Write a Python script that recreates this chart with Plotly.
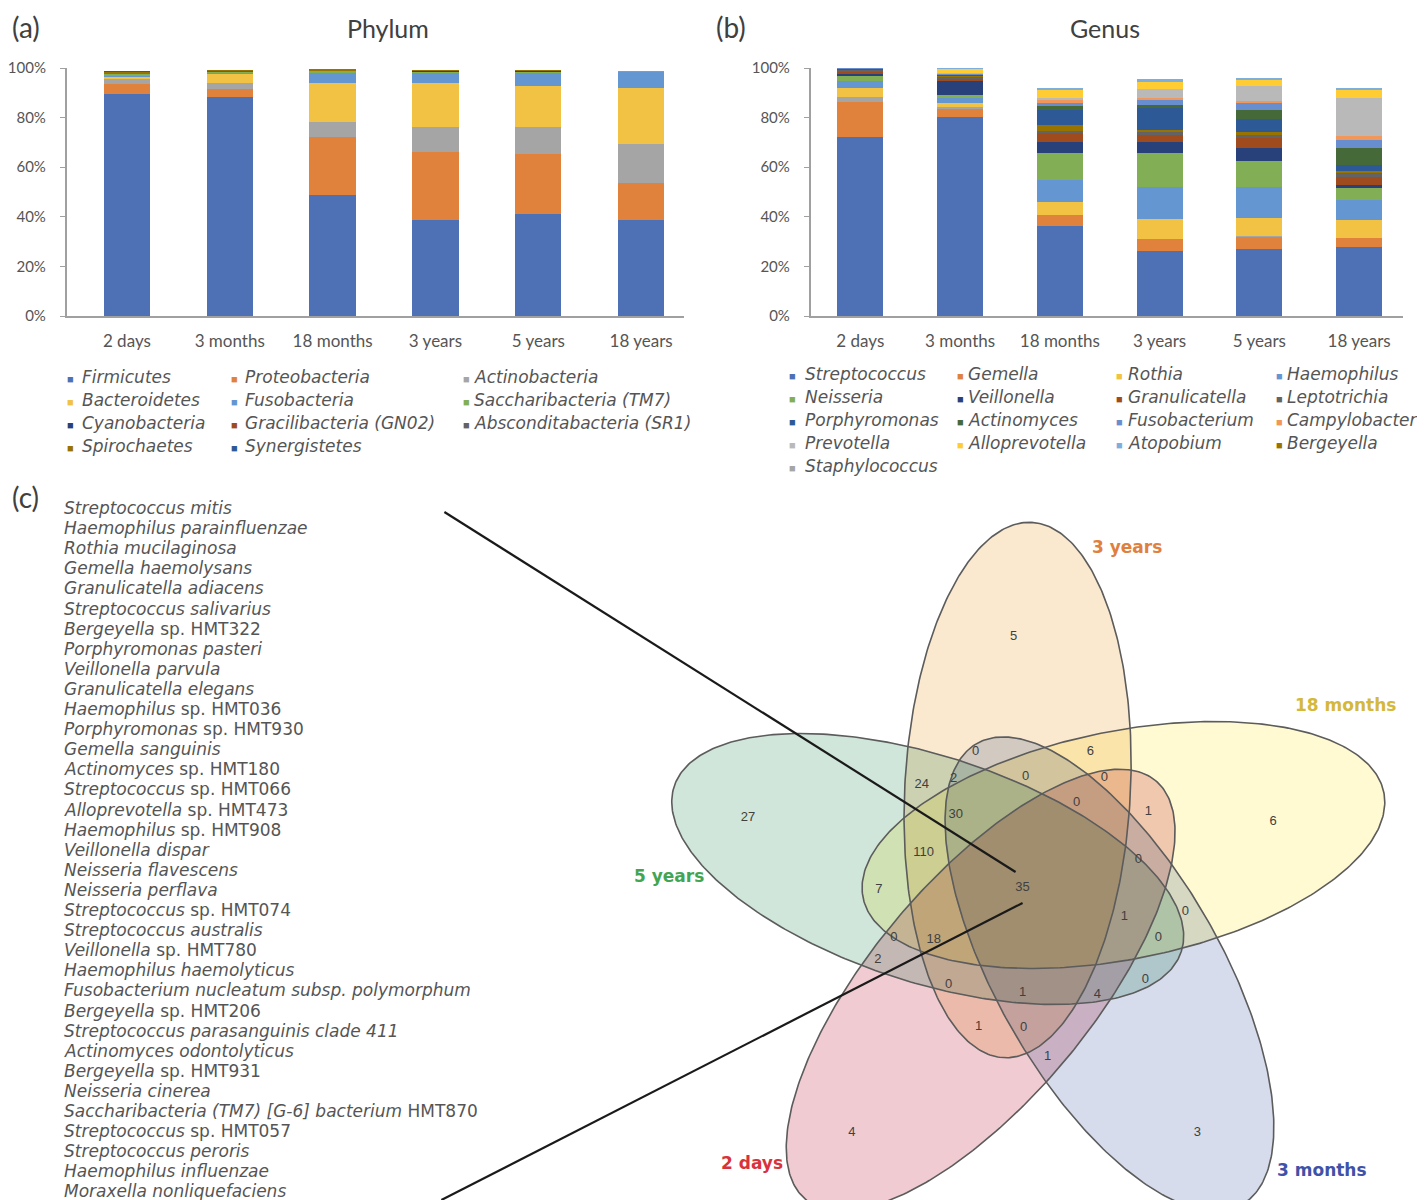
import itertools
import numpy as np
import plotly.graph_objects as go

W, H = 1425, 1200

# ---------------- data ----------------
ages = ["2 days", "3 months", "18 months", "3 years", "5 years", "18 years"]

phyla = ["Firmicutes", "Proteobacteria", "Actinobacteria", "Bacteroidetes", "Fusobacteria",
         "Saccharibacteria (TM7)", "Cyanobacteria", "Gracilibacteria (GN02)",
         "Absconditabacteria (SR1)", "Spirochaetes", "Synergistetes"]
phylum_colors = ["#4E70B4", "#E0823C", "#A5A5A5", "#F2C244", "#6496D2", "#82AF55",
                 "#28417A", "#A04B1E", "#636363", "#997300", "#2D5A96"]
firmicutes = [89.5, 88.5, 48.9, 38.8, 41.2, 38.8]
proteobacteria = [4.2, 3.0, 23.4, 27.4, 24.1, 15.0]
actinobacteria = [2.0, 2.4, 6.1, 9.9, 10.8, 15.5]
bacteroidetes = [1.0, 3.8, 15.5, 17.8, 16.7, 22.6]
fusobacteria = [0.4, 0.5, 4.3, 4.3, 5.4, 6.7]
saccharibacteria = [0.5, 0.4, 0.6, 0.5, 0.5, 0.1]
cyanobacteria = [0.1, 0.1, 0.1, 0.1, 0.1, 0.0]
gracilibacteria = [0.1, 0.1, 0.1, 0.1, 0.1, 0.0]
absconditabacteria = [0.1, 0.1, 0.1, 0.1, 0.1, 0.0]
spirochaetes = [0.6, 0.1, 0.1, 0.1, 0.1, 0.0]
synergistetes = [0.1, 0.0, 0.0, 0.0, 0.0, 0.0]
phylum_values = [firmicutes, proteobacteria, actinobacteria, bacteroidetes, fusobacteria,
                 saccharibacteria, cyanobacteria, gracilibacteria, absconditabacteria,
                 spirochaetes, synergistetes]

# genus series in stacking order (bottom -> top)
genera = ["Streptococcus", "Gemella", "Staphylococcus", "Rothia", "Haemophilus", "Neisseria",
          "Veillonella", "Granulicatella", "Leptotrichia", "Bergeyella", "Porphyromonas",
          "Actinomyces", "Fusobacterium", "Campylobacter", "Prevotella", "Alloprevotella",
          "Atopobium"]
genus_colors = ["#4E70B4", "#E0823C", "#A5A5A5", "#F2C244", "#6496D2", "#82AF55",
                "#28417A", "#A04B1E", "#636363", "#997300", "#2D5A96", "#46693A",
                "#698ED0", "#F1975A", "#B9B9B9", "#FFCD33", "#7CAFDD"]
streptococcus = [72.0, 80.4, 36.1, 26.4, 27.0, 27.7]
gemella = [14.1, 3.4, 4.7, 4.7, 5.0, 3.8]
staphylococcus = [2.4, 0.3, 0.1, 0.1, 0.1, 0.1]
rothia = [3.4, 1.7, 5.1, 8.1, 7.6, 7.0]
haemophilus = [2.7, 2.0, 8.8, 12.8, 12.4, 8.1]
neisseria = [2.0, 1.4, 11.1, 13.8, 10.4, 4.8]
veillonella = [1.2, 5.4, 4.1, 4.1, 5.2, 1.2]
granulicatella = [0.6, 1.3, 3.7, 3.1, 4.0, 3.2]
leptotrichia = [0.8, 0.7, 1.1, 0.9, 1.4, 1.6]
bergeyella = [0.2, 0.3, 2.3, 1.1, 0.9, 1.1]
porphyromonas = [0.3, 0.4, 6.1, 8.8, 5.4, 2.3]
actinomyces = [0.2, 0.2, 1.6, 1.3, 3.5, 6.8]
fusobacterium = [0.1, 0.2, 1.4, 2.1, 3.0, 3.3]
campylobacter = [0.0, 0.1, 0.7, 0.6, 0.7, 1.4]
prevotella = [0.0, 0.3, 1.0, 3.7, 6.3, 15.5]
alloprevotella = [0.0, 1.5, 3.1, 3.1, 2.5, 3.4]
atopobium = [0.0, 0.2, 1.0, 0.7, 0.5, 0.7]
genus_values = [streptococcus, gemella, staphylococcus, rothia, haemophilus, neisseria,
                veillonella, granulicatella, leptotrichia, bergeyella, porphyromonas,
                actinomyces, fusobacterium, campylobacter, prevotella, alloprevotella,
                atopobium]
genus_legend_order = ["Streptococcus", "Gemella", "Rothia", "Haemophilus",
                      "Neisseria", "Veillonella", "Granulicatella", "Leptotrichia",
                      "Porphyromonas", "Actinomyces", "Fusobacterium", "Campylobacter",
                      "Prevotella", "Alloprevotella", "Atopobium", "Bergeyella",
                      "Staphylococcus"]

y_ticks = [0, 20, 40, 60, 80, 100]
y_tick_labels = ["0%", "20%", "40%", "60%", "80%", "100%"]

# core species list: (italic part, roman part)
core_species = [
    ("Streptococcus mitis", ""), ("Haemophilus parainfluenzae", ""),
    ("Rothia mucilaginosa", ""), ("Gemella haemolysans", ""),
    ("Granulicatella adiacens", ""), ("Streptococcus salivarius", ""),
    ("Bergeyella", " sp. HMT322"), ("Porphyromonas pasteri", ""),
    ("Veillonella parvula", ""), ("Granulicatella elegans", ""),
    ("Haemophilus", " sp. HMT036"), ("Porphyromonas", " sp. HMT930"),
    ("Gemella sanguinis", ""), ("Actinomyces", " sp. HMT180"),
    ("Streptococcus", " sp. HMT066"), ("Alloprevotella", " sp. HMT473"),
    ("Haemophilus", " sp. HMT908"), ("Veillonella dispar", ""),
    ("Neisseria flavescens", ""), ("Neisseria perflava", ""),
    ("Streptococcus", " sp. HMT074"), ("Streptococcus australis", ""),
    ("Veillonella", " sp. HMT780"), ("Haemophilus haemolyticus", ""),
    ("Fusobacterium nucleatum subsp. polymorphum", ""), ("Bergeyella", " sp. HMT206"),
    ("Streptococcus parasanguinis clade 411", ""), ("Actinomyces odontolyticus", ""),
    ("Bergeyella", " sp. HMT931"), ("Neisseria cinerea", ""),
    ("Saccharibacteria (TM7) [G-6] bacterium", " HMT870"), ("Streptococcus", " sp. HMT057"),
    ("Streptococcus peroris", ""), ("Haemophilus influenzae", ""),
    ("Moraxella nonliquefaciens", ""),
]

venn_sets = ["3 years", "18 months", "3 months", "2 days", "5 years"]
venn_counts = [5, 6, 3, 4, 27,
               0, 6, 24, 2, 0, 0, 0, 1, 30, 110, 0, 7, 35, 0, 1, 0, 0, 18, 2,
               0, 0, 1, 4, 1, 0, 1]

# ---------------- layout constants (reference pixels) ----------------
# the page shows the figure offset by (8, 18) px and squeezed vertically; map reference px
OX, OY, SY = 8.0, 18.0, 0.985
def fx(px):  # reference x px -> paper fraction
    return (px - OX) / W
def fy(py):  # reference y px -> paper fraction
    return 1 - ((py - OY) / SY) / H

venn_geom = {  # centre x, centre y, semi-major, semi-minor, angle (deg, y up)
    "3 years":   (1017, 790, 268, 113, 87.0),
    "18 months": (1123, 845, 266, 114, 11.4),
    "3 months":  (1109, 974, 266, 112, -60.0),
    "2 days":    (980, 990, 273, 110, 50.0),
    "5 years":   (927, 869, 267, 113, -18.0),
}
venn_rgb = {
    "3 years": (250, 233, 207),
    "18 months": (255, 250, 210),
    "3 months": (214, 220, 236),
    "2 days": (240, 204, 210),
    "5 years": (208, 230, 218),
}
venn_label_style = {
    "3 years": (1127, 547, "#E0803E"),
    "18 months": (1345, 705, "#D4B83A"),
    "3 months": (1322, 1170, "#3F52A8"),
    "2 days": (751, 1163, "#D9323C"),
    "5 years": (668, 876, "#43A552"),
}
count_pos = [(1013, 637), (1273, 822), (1197, 1133), (851, 1133), (747, 818),
             (975, 752), (1090, 752), (921, 785), (953, 779), (1025, 777), (1104, 778),
             (1076, 803), (1148, 812), (955, 815), (923, 853), (1138, 860), (878, 890),
             (1022, 888), (1185, 912), (1124, 917), (1158, 938), (893, 938), (933, 940),
             (877, 960), (1145, 980), (948, 985), (1022, 993), (1097, 995), (978, 1027),
             (1023, 1028), (1047, 1057)]
pointer_lines = [((443, 512), (1015, 872)), ((440, 1200), (1022, 903))]

GRAY_TXT = "#555555"
LIST_FONT = "DejaVu Sans, Liberation Sans, Arial"
fig = go.Figure()

# ---------------- bar charts ----------------
for name, vals, col in zip(phyla, phylum_values, phylum_colors):
    fig.add_trace(go.Bar(x=ages, y=vals, name=name, marker=dict(color=col, line=dict(width=0)),
                         width=0.45, xaxis="x", yaxis="y", showlegend=False))
for name, vals, col in zip(genera, genus_values, genus_colors):
    fig.add_trace(go.Bar(x=ages, y=vals, name=name, marker=dict(color=col, line=dict(width=0)),
                         width=0.46, xaxis="x2", yaxis="y2", showlegend=False))

# ---------------- venn (regions coloured by multiplying the set colours) ----------------
def ell_boundary(g, n):
    cx, cy, a, b, ang = g
    t = np.linspace(0, 2 * np.pi, n, endpoint=False)
    th = np.deg2rad(ang)
    ex = cx + a * np.cos(t) * np.cos(th) - b * np.sin(t) * np.sin(th)
    ey = cy - (a * np.cos(t) * np.sin(th) + b * np.sin(t) * np.cos(th))
    return ex, ey

def ell_inside(g, x, y):
    cx, cy, a, b, ang = g
    th = np.deg2rad(ang)
    dx, dy = x - cx, -(y - cy)
    u = dx * np.cos(th) + dy * np.sin(th)
    v = -dx * np.sin(th) + dy * np.cos(th)
    return (u / a) ** 2 + (v / b) ** 2 <= 1.0 + 1e-9

subsets = []
for k in range(1, 6):
    subsets.extend(itertools.combinations(venn_sets, k))
for sub in subsets:
    xs, ys = [], []
    for s in sub:
        ex, ey = ell_boundary(venn_geom[s], 1500)
        keep = np.ones_like(ex, dtype=bool)
        for o in sub:
            if o != s:
                keep &= ell_inside(venn_geom[o], ex, ey)
        xs.append(ex[keep]); ys.append(ey[keep])
    px_, py_ = np.concatenate(xs), np.concatenate(ys)
    if len(px_) < 3:
        continue
    order = np.argsort(np.arctan2(py_ - py_.mean(), px_ - px_.mean()))
    px_, py_ = px_[order], py_[order]
    rgb = np.array([255.0, 255.0, 255.0])
    for s in sub:
        rgb *= np.array(venn_rgb[s]) / 255.0
    col = "rgb(%d,%d,%d)" % tuple(np.round(rgb).astype(int))
    fig.add_trace(go.Scatter(x=np.append(px_, px_[0]), y=np.append(py_, py_[0]), mode="lines",
                             fill="toself", fillcolor=col, line=dict(width=0.6, color=col),
                             xaxis="x3", yaxis="y3", showlegend=False, hoverinfo="skip"))

for s in venn_sets:
    ex, ey = ell_boundary(venn_geom[s], 360)
    fig.add_trace(go.Scatter(x=np.append(ex, ex[0]), y=np.append(ey, ey[0]), mode="lines",
                             line=dict(color="#5c5c5c", width=1.6),
                             xaxis="x3", yaxis="y3", showlegend=False, hoverinfo="skip"))

fig.add_trace(go.Scatter(x=[p[0] for p in count_pos], y=[p[1] for p in count_pos],
                         text=[str(c) for c in venn_counts], mode="text",
                         textfont=dict(family="Liberation Sans, Arial", size=13, color="#404040"),
                         xaxis="x3", yaxis="y3", showlegend=False, hoverinfo="skip"))

for (x0, y0), (x1, y1) in pointer_lines:
    fig.add_trace(go.Scatter(x=[x0, x1], y=[y0, y1], mode="lines",
                             line=dict(color="#1a1a1a", width=2.2),
                             xaxis="x3", yaxis="y3", showlegend=False, hoverinfo="skip"))

annotations = []
for s in venn_sets:
    x, y, c = venn_label_style[s]
    annotations.append(dict(x=x, y=y, xref="x3", yref="y3", text="<b>%s</b>" % s,
                            showarrow=False, font=dict(family="DejaVu Sans, Arial", size=17, color=c)))

# species list
for i, (it, rm) in enumerate(core_species):
    txt = "<i>%s</i>%s" % (it, rm)
    annotations.append(dict(x=60, y=508 + i * 20.1, xref="x3", yref="y3", text=txt,
                            xanchor="left", yanchor="middle", showarrow=False,
                            font=dict(family=LIST_FONT, size=17, color=GRAY_TXT)))

# panel letters and titles
for txt, x, y in [("(a)", 8, 27), ("(b)", 713, 27), ("(c)", 8, 497)]:
    annotations.append(dict(x=x, y=y, xref="x3", yref="y3", text=txt, xanchor="left",
                            yanchor="middle", showarrow=False,
                            font=dict(family="Lato, Open Sans", size=28, color="#404040")))
for txt, x in [("Phylum", 387), ("Genus", 1105)]:
    annotations.append(dict(x=x, y=28, xref="x3", yref="y3", text=txt, showarrow=False,
                            font=dict(family="Lato, Open Sans", size=25, color="#404040")))

# legends (a)
a_cols = [(69, 78), (233, 241), (465, 471)]
a_rows = [377, 400, 423, 446]
for k, (name, col) in enumerate(zip(phyla, phylum_colors)):
    r, c = divmod(k, 3)
    sx, tx = a_cols[c]
    annotations.append(dict(x=sx, y=a_rows[r] + 1, xref="x3", yref="y3", text="■",
                            showarrow=False, font=dict(size=11, color=col)))
    annotations.append(dict(x=tx, y=a_rows[r], xref="x3", yref="y3", text="<i>%s</i>" % name,
                            xanchor="left", showarrow=False,
                            font=dict(family=LIST_FONT, size=17, color=GRAY_TXT)))
# legends (b)
b_cols = [(792, 802), (960, 965), (1119, 1126), (1279, 1285)]
b_rows = [374, 397, 420, 443, 466]
gcol = dict(zip(genera, genus_colors))
for k, name in enumerate(genus_legend_order):
    r, c = divmod(k, 4)
    sx, tx = b_cols[c]
    annotations.append(dict(x=sx, y=b_rows[r] + 1, xref="x3", yref="y3", text="■",
                            showarrow=False, font=dict(size=11, color=gcol[name])))
    annotations.append(dict(x=tx, y=b_rows[r], xref="x3", yref="y3", text="<i>%s</i>" % name,
                            xanchor="left", showarrow=False,
                            font=dict(family=LIST_FONT, size=17, color=GRAY_TXT)))

ydom = [fy(316), fy(68)]
axis_font = dict(family="Lato, Open Sans", size=15, color=GRAY_TXT)
yax = dict(range=[0, 100], tickvals=y_ticks, ticktext=y_tick_labels, showline=True,
           linecolor="#a0a0a0", linewidth=2, ticks="outside", ticklen=5, tickcolor="#a0a0a0",
           showgrid=False, zeroline=False, tickfont=axis_font, ticklabelstandoff=11, fixedrange=True)
xax = dict(type="category", showline=True, linecolor="#a0a0a0", linewidth=2, ticks="",
           showgrid=False, tickfont=dict(family="Lato, Open Sans", size=17, color=GRAY_TXT),
           ticklabelstandoff=9, fixedrange=True)

fig.update_layout(
    width=W, height=H, margin=dict(l=0, r=0, t=0, b=0),
    paper_bgcolor="white", plot_bgcolor="rgba(0,0,0,0)",
    barmode="stack",
    xaxis=dict(xax, domain=[fx(65), fx(683)], anchor="y", range=[-0.583, 5.417]),
    yaxis=dict(yax, domain=ydom, anchor="x"),
    xaxis2=dict(xax, domain=[fx(810), fx(1403)], anchor="y2", range=[-0.495, 5.44]),
    yaxis2=dict(yax, domain=ydom, anchor="x2"),
    xaxis3=dict(domain=[0, 1], range=[OX, OX + W], visible=False, anchor="y3", fixedrange=True),
    yaxis3=dict(domain=[0, 1], range=[OY + SY * H, OY], visible=False, anchor="x3", fixedrange=True),
    annotations=annotations,
    showlegend=False,
)

fig.write_html("out.html")
